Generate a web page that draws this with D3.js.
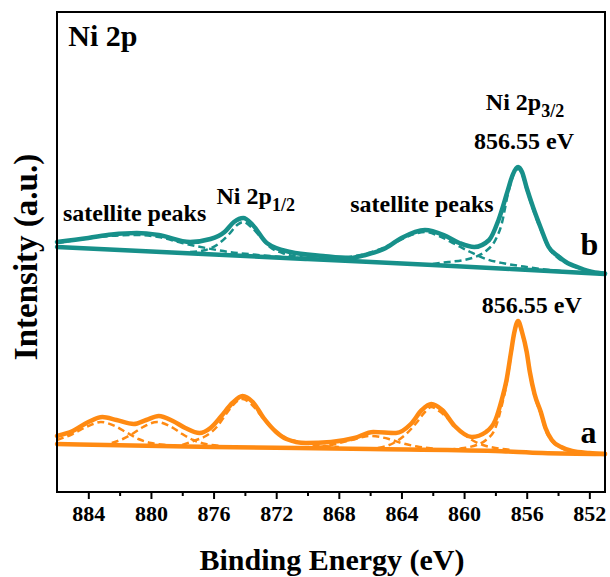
<!DOCTYPE html>
<meta charset="utf-8">
<style>
  body { margin: 0; background: #fff; }
</style>
<script src="https://d3js.org/d3.v7.min.js"></script>
<div id="chart"></div>
<script>
// x: binding energy (eV), y: intensity (a.u.)
var majorTicks = [884, 880, 876, 872, 868, 864, 860, 856, 852];
var minorTicks = [882, 878, 874, 870, 866, 862, 858, 854];

// ---- sample a (orange) ----
var aEnvelope = [[886,56],[885,61],[884,70],[883.1,75],[882.2,72],[881.1,68],[880.3,72],[879.5,76],[878.6,71],[877.8,64],
  [876.9,59],[876.2,64],[875.5,76],[874.8,89],[874.15,96],[873.5,90],[872.8,74],[872,60],[871.35,53],[870.1,49],
  [868.5,50],[867,54],[865.8,60],[864.35,59],[863.4,68],[862.7,82],[862.1,88],[861.4,82],[860.6,66],[859.5,55],
  [858.6,60],[858,72],[857.6,92],[857.3,111],[857,140],[856.8,159],[856.55,171],[856.3,160],[856,140],[855.8,120],
  [855.5,98],[855.1,80],[854.8,64],[854.4,52],[853.8,45],[853.1,41],[852,39],[851,38]];
var aBackground = [[886,48],[876,45],[866,43],[858,41],[855,39],[851,38]];
var aSat1 = [[886,52],[885,58],[884,66],[883.2,70],[882.3,66],[881.5,59],[880.8,53],[880,49],[879,47],[878,46]];
var aSat2 = [[882.5,49],[881.8,53],[881.3,57],[880.5,65],[879.6,70],[878.8,66],[878,58],[877.3,52],[876.5,48],[875.5,46]];
var aP12 = [[878,47],[877.3,51],[876.5,56],[875.8,65],[875.2,78],[874.7,88],[874.15,93],[873.6,88],[873,77],[872.3,64],
  [871.5,55],[870.5,50],[869.5,47],[868,45]];
var aSat3 = [[870,44.5],[868.5,47],[867.2,52],[866,56],[864.8,53],[864,49],[863,45.5],[862,43.5]];
var aSat4 = [[865.5,44],[864.5,49],[863.7,58],[863,70],[862.5,80],[862.1,85],[861.6,81],[861,73],[860.3,62],[859.6,53],
  [858.8,47],[858,44],[857,42]];
var aP32 = [[861,42.5],[860,44],[859.2,47],[858.6,52],[858,64],[857.6,86],[857.3,107],[857,137],[856.8,157],[856.55,169],
  [856.3,158],[856,138],[855.8,118],[855.5,96],[855.1,78],[854.8,62],[854.4,51],[853.8,44],[853.1,40.5],[852,38.5],[851,38]];

// ---- sample b (teal) ----
var bEnvelope = [[886,250],[884,254],[882.5,257.5],[880.9,259],[879.5,257],[877.5,250],[876.2,253],[875.3,260],[874.7,270],
  [874.1,274],[873.5,267],[872.6,249],[871.1,240],[869,236],[867.3,234],[866.3,237],[865,244],[864,254],[862.5,262],
  [861.3,257],[860.3,249],[859.35,245],[858.4,252],[857.8,272],[857.2,302],[856.9,317],[856.55,325],[856.3,320],
  [856,304],[855.6,285],[855.1,264],[854.6,245],[854,236],[853.5,230],[852.6,224],[851.8,220],[851,218.5]];
var bBackground = [[886,245],[878,239],[870,233],[862,227],[857,223],[854,220.5],[851,218]];
var bSat1 = [[886,249],[884.5,252.5],[883,255.5],[881,257],[879.5,255],[878,249],[876.5,244],[875,240],[873.5,237.5],
  [872,235.5],[870,233.5]];
var bP12 = [[877.5,240],[876.5,242],[875.7,248],[875,258],[874.5,267],[874.1,270],[873.6,265],[873,255],[872.4,245],
  [871.6,239],[870.5,235],[869,233]];
var bSat2 = [[869,233.5],[867,236],[865.5,242],[864.2,251],[863.2,258],[862.5,260],[861.6,256],[860.6,248],[859.6,240],
  [858.6,233],[857.4,228.5],[856,225],[854.5,222],[853,220],[851,218]];
var bP32 = [[862,228],[861,230],[860,232],[859.3,235],[858.6,241],[858,252],[857.6,268],[857.2,298],[856.9,315],[856.55,323],
  [856.3,318],[856,302],[855.6,283],[855.1,262],[854.6,244],[854,234],[853.3,228],[852.5,223],[851.6,220],[851,218.5]];

var orange = "#ff8a12", teal = "#17908a";
var serif = "'Liberation Serif', 'Times New Roman', serif";

var margin = {top: 12, right: 5, bottom: 85, left: 57},
    width = 610 - margin.left - margin.right,
    height = 577 - margin.top - margin.bottom;

var svg = d3.select("#chart").append("svg")
    .attr("width", 610).attr("height", 577)
  .append("g")
    .attr("transform", "translate(" + margin.left + "," + margin.top + ")");

var x = d3.scaleLinear().domain([886, 851]).range([0, width]);
var y = d3.scaleLinear().domain([0, 480]).range([height, 0]);

var line = d3.line()
    .x(function(d) { return x(d[0]); })
    .y(function(d) { return y(d[1]); })
    .curve(d3.curveMonotoneX);

function dashed(data, color) {
  svg.append("path").datum(data).attr("d", line)
    .attr("fill", "none").attr("stroke", color).attr("stroke-width", 2.5)
    .attr("stroke-dasharray", "7,4");
}
function solid(data, color) {
  svg.append("path").datum(data).attr("d", line)
    .attr("fill", "none").attr("stroke", color).attr("stroke-width", 4.5)
    .attr("stroke-linejoin", "round").attr("stroke-linecap", "round");
}
function font(sel, size) {
  sel.style("font-family", serif).style("font-weight", "bold")
    .style("font-size", size + "px").style("fill", "#000");
  return sel;
}

[aSat1, aSat2, aP12, aSat3, aSat4, aP32].forEach(function(c) { dashed(c, orange); });
solid(aBackground, orange);
solid(aEnvelope, orange);

[bSat1, bP12, bSat2, bP32].forEach(function(c) { dashed(c, teal); });
solid(bBackground, teal);
solid(bEnvelope, teal);

// frame
svg.append("rect").attr("width", width).attr("height", height)
  .attr("fill", "none").attr("stroke", "#000").attr("stroke-width", 2);

// x axis
var xAxis = svg.append("g").attr("transform", "translate(0," + height + ")")
  .call(d3.axisBottom(x).tickValues(majorTicks).tickSize(7).tickSizeOuter(0).tickPadding(6));
xAxis.select(".domain").remove();
xAxis.selectAll("line").attr("stroke-width", 2);
font(xAxis.selectAll("text"), 22);

var xMinor = svg.append("g").attr("transform", "translate(0," + height + ")")
  .call(d3.axisBottom(x).tickValues(minorTicks).tickSize(4).tickFormat(""));
xMinor.select(".domain").remove();
xMinor.selectAll("line").attr("stroke-width", 2);

// axis titles
font(svg.append("text"), 30).attr("x", width / 2 + 1).attr("y", height + 78)
  .attr("text-anchor", "middle").text("Binding Energy (eV)");
font(svg.append("text"), 33).attr("transform", "translate(-20," + (height / 2 + 5) + ") rotate(-90)")
  .attr("text-anchor", "middle").text("Intensity (a.u.)");

// annotations
function label(eV, val, txt, size) {
  return font(svg.append("text"), size).attr("x", x(eV)).attr("y", y(val)).text(txt);
}
function subLabel(eV, val, main, sub) {
  var t = font(svg.append("text"), 24).attr("x", x(eV)).attr("y", y(val));
  t.append("tspan").text(main);
  t.append("tspan").attr("dy", 7).style("font-size", "18px").text(sub);
}
label(885.28, 446, "Ni 2p", 30);
label(885.62, 271.3, "satellite peaks", 24);
subLabel(875.81, 288, "Ni 2p", "1/2");
label(867.27, 280.3, "satellite peaks", 24);
subLabel(858.61, 382, "Ni 2p", "3/2");
label(859.36, 342.7, "856.55 eV", 24);
label(852.56, 237, "b", 32);
label(858.87, 179.3, "856.55 eV", 24);
label(852.56, 49.3, "a", 32);
</script>
